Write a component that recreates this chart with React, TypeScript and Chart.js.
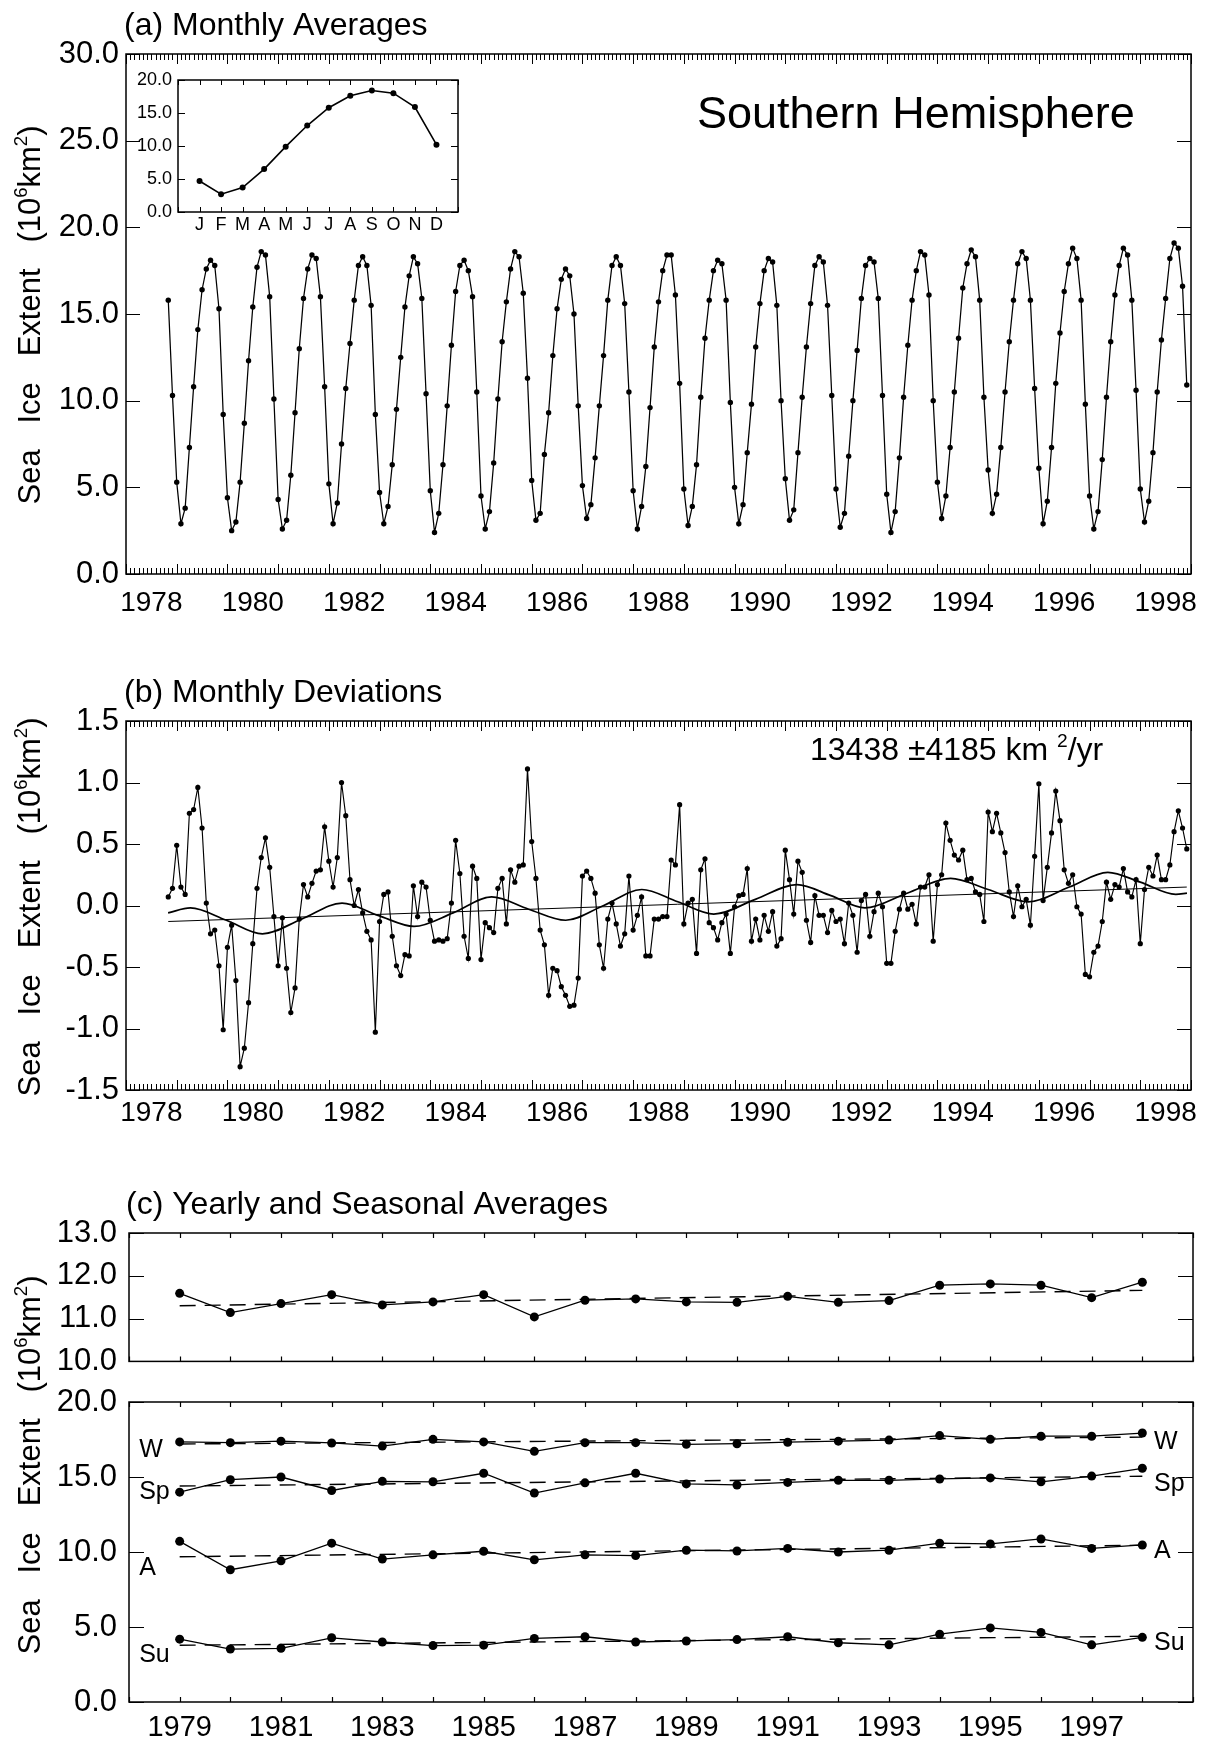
import React, { useEffect, useRef } from 'react';
import { Chart, registerables } from 'chart.js';

Chart.register(...registerables);

const FONT = '"Liberation Sans", Arial, Helvetica, sans-serif';
const INK = '#000000';

// ---------------- (a) Monthly averages, Nov 1978 - Dec 1998 (10^6 km^2) ----------------
const monthlyStartYear = 1978;
const monthlyStartMonth = 11; // November
const monthlyExtent = [
  15.8, 10.3,
  5.3, 2.9, 3.8, 7.3, 10.8, 14.1, 16.4, 17.6, 18.1, 17.8, 15.3, 9.2,
  4.4, 2.5, 3.0, 5.3, 8.7, 12.3, 15.4, 17.7, 18.6, 18.4, 16.0, 10.1,
  4.3, 2.6, 3.1, 5.7, 9.3, 13.0, 15.9, 17.6, 18.4, 18.2, 16.0, 10.8,
  5.2, 2.9, 4.1, 7.5, 10.7, 13.3, 15.8, 17.8, 18.3, 17.8, 15.5, 9.2,
  4.7, 2.9, 3.9, 6.3, 9.5, 12.5, 15.4, 17.2, 18.3, 17.9, 15.9, 10.4,
  4.8, 2.4, 3.5, 6.3, 9.7, 13.2, 16.3, 17.8, 18.1, 17.5, 16.0, 10.5,
  4.5, 2.6, 3.6, 6.4, 10.1, 13.4, 15.7, 17.6, 18.6, 18.3, 16.2, 11.3,
  5.4, 3.1, 3.5, 6.9, 9.3, 12.6, 15.3, 17.0, 17.6, 17.2, 15.0, 9.7,
  5.1, 3.2, 4.0, 6.7, 9.7, 12.6, 15.8, 17.8, 18.3, 17.8, 15.6, 10.5,
  4.8, 2.6, 3.9, 6.2, 9.6, 13.1, 15.7, 17.5, 18.4, 18.4, 16.1, 11.0,
  4.9, 2.8, 3.9, 6.3, 10.2, 13.6, 15.8, 17.5, 18.1, 17.9, 15.8, 9.9,
  5.0, 2.9, 4.0, 7.0, 9.8, 13.1, 15.6, 17.5, 18.2, 18.0, 15.5, 10.0,
  5.5, 3.1, 3.7, 7.0, 10.2, 13.1, 15.6, 17.8, 18.3, 18.0, 15.5, 10.3,
  4.9, 2.7, 3.5, 6.8, 10.0, 12.9, 15.9, 17.8, 18.2, 18.0, 15.9, 10.3,
  4.6, 2.4, 3.6, 6.7, 10.2, 13.2, 15.8, 17.5, 18.6, 18.4, 16.1, 10.0,
  5.3, 3.2, 4.5, 7.3, 10.5, 13.6, 16.5, 17.9, 18.7, 18.3, 15.8, 10.2,
  6.0, 3.5, 4.6, 7.3, 10.5, 13.4, 15.8, 17.9, 18.6, 18.2, 15.8, 10.7,
  6.1, 2.9, 4.2, 7.3, 11.0, 13.9, 16.3, 17.9, 18.8, 18.2, 15.8, 9.8,
  4.5, 2.6, 3.6, 6.6, 10.2, 13.4, 16.1, 17.8, 18.8, 18.4, 15.8, 10.6,
  4.9, 3.0, 4.2, 7.0, 10.5, 13.5, 15.9, 18.2, 19.1, 18.8, 16.6, 10.9,
];
const monthlyYearLabels = [1978, 1980, 1982, 1984, 1986, 1988, 1990, 1992, 1994, 1996, 1998];

// inset: mean seasonal cycle
const monthInitials = ['J', 'F', 'M', 'A', 'M', 'J', 'J', 'A', 'S', 'O', 'N', 'D'];
const climatologyExtent = [4.7, 2.7, 3.7, 6.5, 9.9, 13.1, 15.8, 17.6, 18.4, 18.0, 15.9, 10.2];

// ---------------- (b) Monthly deviations (10^6 km^2) ----------------
const monthlyDeviation = [
  0.07, 0.14,
  0.49, 0.15, 0.09, 0.75, 0.78, 0.96, 0.63, 0.02, -0.23, -0.20, -0.49, -1.01,
  -0.34, -0.16, -0.61, -1.31, -1.16, -0.79, -0.31, 0.14, 0.39, 0.55, 0.31, -0.09,
  -0.49, -0.10, -0.51, -0.87, -0.67, -0.11, 0.17, 0.07, 0.18, 0.28, 0.29, 0.64,
  0.36, 0.15, 0.39, 1.00, 0.73, 0.21, 0.00, 0.13, -0.06, -0.21, -0.28, -1.03,
  -0.13, 0.09, 0.11, -0.25, -0.49, -0.57, -0.40, -0.41, 0.16, -0.09, 0.19, 0.15,
  -0.12, -0.29, -0.28, -0.29, -0.27, 0.02, 0.53, 0.26, -0.25, -0.43, 0.32, 0.22,
  -0.44, -0.14, -0.18, -0.22, 0.14, 0.22, -0.15, 0.29, 0.19, 0.32, 0.33, 1.11,
  0.52, 0.22, -0.20, -0.32, -0.73, -0.51, -0.53, -0.66, -0.73, -0.82, -0.81, -0.59,
  0.24, 0.28, 0.22, 0.10, -0.32, -0.51, -0.11, 0.02, -0.15, -0.33, -0.23, 0.24,
  -0.20, -0.08, 0.07, -0.41, -0.41, -0.11, -0.11, -0.09, -0.09, 0.37, 0.33, 0.82,
  -0.15, 0.02, 0.05, -0.39, 0.29, 0.38, -0.14, -0.18, -0.28, -0.14, -0.07, -0.39,
  -0.01, 0.08, 0.09, 0.30, -0.29, -0.11, -0.28, -0.08, -0.21, -0.05, -0.33, -0.27,
  0.45, 0.21, -0.07, 0.36, 0.27, -0.12, -0.30, 0.08, -0.08, -0.08, -0.22, -0.04,
  -0.13, -0.11, -0.31, 0.02, -0.08, -0.38, 0.04, 0.09, -0.25, -0.05, 0.10, -0.01,
  -0.47, -0.47, -0.21, -0.03, 0.10, -0.03, 0.01, -0.15, 0.15, 0.15, 0.25, -0.29,
  0.17, 0.25, 0.67, 0.53, 0.41, 0.37, 0.45, 0.21, 0.22, 0.11, 0.09, -0.13,
  0.76, 0.60, 0.75, 0.59, 0.43, 0.11, -0.09, 0.16, -0.01, 0.05, -0.16, 0.40,
  0.99, 0.04, 0.31, 0.59, 0.93, 0.69, 0.29, 0.18, 0.25, -0.01, -0.07, -0.56,
  -0.58, -0.38, -0.33, -0.13, 0.19, 0.05, 0.17, 0.15, 0.30, 0.11, 0.07, 0.21,
  -0.31, 0.13, 0.31, 0.24, 0.41, 0.21, 0.21, 0.33, 0.60, 0.77, 0.63, 0.46,
];
const deviationTrendEnds = [-0.13, 0.15];
const waveYears = [
  1978.83, 1979.27, 1979.98, 1980.69, 1981.47, 1982.26, 1982.97, 1983.68, 1984.45, 1985.21,
  1985.94, 1986.67, 1987.42, 1988.17, 1988.88, 1989.59, 1990.41, 1991.23, 1991.90, 1992.57,
  1993.40, 1994.26, 1995.00, 1995.79, 1996.60, 1997.36, 1998.00, 1998.70, 1998.92,
];
const waveValues = [
  -0.06, -0.02, -0.12, -0.23, -0.11, 0.02, -0.08, -0.17, -0.06, 0.07,
  -0.03, -0.12, 0.00, 0.13, 0.03, -0.07, 0.05, 0.17, 0.08, -0.02,
  0.10, 0.22, 0.13, 0.03, 0.15, 0.27, 0.19, 0.09, 0.10,
];

// ---------------- (c) Yearly and seasonal averages (10^6 km^2) ----------------
const seasonalYears = [1979, 1980, 1981, 1982, 1983, 1984, 1985, 1986, 1987, 1988, 1989, 1990, 1991, 1992, 1993, 1994, 1995, 1996, 1997, 1998];
const seasonalYearLabels = [1979, 1981, 1983, 1985, 1987, 1989, 1991, 1993, 1995, 1997];
const yearlyAverage = [11.59, 11.14, 11.35, 11.56, 11.32, 11.39, 11.56, 11.04, 11.43, 11.46, 11.39, 11.38, 11.52, 11.38, 11.42, 11.78, 11.81, 11.78, 11.49, 11.85];
const winterAverage = [17.34, 17.29, 17.39, 17.27, 17.06, 17.51, 17.34, 16.71, 17.29, 17.29, 17.18, 17.22, 17.32, 17.39, 17.46, 17.76, 17.51, 17.72, 17.72, 17.93];
const springAverage = [13.99, 14.82, 15.0, 14.1, 14.71, 14.68, 15.25, 13.93, 14.61, 15.25, 14.54, 14.47, 14.64, 14.78, 14.78, 14.87, 14.94, 14.68, 15.06, 15.58];
const autumnAverage = [10.71, 8.82, 9.41, 10.59, 9.53, 9.81, 10.05, 9.48, 9.81, 9.76, 10.12, 10.07, 10.24, 10.0, 10.12, 10.59, 10.54, 10.87, 10.24, 10.47];
const summerAverage = [4.19, 3.53, 3.58, 4.28, 4.0, 3.76, 3.79, 4.24, 4.35, 4.0, 4.07, 4.16, 4.35, 3.95, 3.81, 4.52, 4.94, 4.64, 3.81, 4.31];
const yearlyTrendEnds = [11.3, 11.66];
const winterTrendEnds = [17.2, 17.66];
const springTrendEnds = [14.4, 15.05];
const autumnTrendEnds = [9.68, 10.45];
const summerTrendEnds = [3.78, 4.38];
const seasonNames = ['W', 'Sp', 'A', 'Su'];
const seasonLeftLabelValues = [16.8, 14.0, 8.9, 3.1];
const seasonRightLabelValues = [17.35, 14.55, 10.05, 3.9];
const seasonLeftLabelYear = 1978.2;
const seasonRightLabelYear = 1998.23;

// ---------------- helpers ----------------
const monthTime = (i: number) => monthlyStartYear + (monthlyStartMonth - 1 + i) / 12;
const monthlyPoints = monthlyExtent.map((v, i) => ({ x: monthTime(i), y: v }));
const deviationPoints = monthlyDeviation.map((v, i) => ({ x: monthTime(i), y: v }));
const deviationTrend = [
  { x: monthTime(0), y: deviationTrendEnds[0] },
  { x: monthTime(monthlyDeviation.length - 1), y: deviationTrendEnds[1] },
];
const wavePoints = waveYears.map((t, i) => ({ x: t, y: waveValues[i] }));
const climPoints = climatologyExtent.map((v, i) => ({ x: i, y: v }));
const yearSeries = (vals: number[]) => vals.map((v, i) => ({ x: seasonalYears[i], y: v }));
const trendSeries = (ends: number[]) => [
  { x: seasonalYears[0], y: ends[0] },
  { x: seasonalYears[seasonalYears.length - 1], y: ends[1] },
];

const lineStyle = (radius: number, width: number) => ({
  borderColor: INK,
  backgroundColor: INK,
  borderWidth: width,
  pointRadius: radius,
  pointHoverRadius: radius,
  pointBackgroundColor: INK,
  pointBorderColor: INK,
  pointBorderWidth: 0,
  tension: 0,
  fill: false,
});
const dashStyle = {
  borderColor: INK,
  borderWidth: 1.4,
  borderDash: [16, 9],
  pointRadius: 0,
  fill: false,
  tension: 0,
};

function yAxis(min: number, max: number, step: number, width: number, size: number, pad: number) {
  return {
    type: 'linear',
    min,
    max,
    grid: { display: false, drawTicks: false },
    border: { display: false },
    ticks: {
      stepSize: step,
      padding: pad,
      color: INK,
      font: { family: FONT, size },
      callback: (v: any) => Number(v).toFixed(1),
    },
    afterFit: (s: any) => {
      s.width = width;
    },
  };
}

function xAxis(min: number, max: number, values: number[], labels: string[], height: number, size: number, pad: number, display = true) {
  return {
    type: 'linear',
    min,
    max,
    display,
    grid: { display: false, drawTicks: false },
    border: { display: false },
    afterBuildTicks: (s: any) => {
      s.ticks = values.map((v) => ({ value: v }));
    },
    ticks: {
      autoSkip: false,
      maxRotation: 0,
      minRotation: 0,
      padding: pad,
      color: INK,
      font: { family: FONT, size },
      callback: (_v: any, i: number) => labels[i],
    },
    afterFit: (s: any) => {
      s.height = height;
    },
  };
}

function baseOptions(padding: any, scales: any) {
  return {
    responsive: false,
    maintainAspectRatio: false,
    animation: false,
    events: [],
    layout: { padding, autoPadding: false },
    plugins: { legend: { display: false }, tooltip: { enabled: false }, title: { display: false } },
    scales,
  };
}

type FrameCfg = { perUnit: number; majorEvery: number; minorLen: number; majorLen: number; yLen: number; frameWidth: number; tickWidth: number };
function frameTicks(cfg: FrameCfg) {
  return {
    id: 'frameTicks',
    afterDatasetsDraw(chart: any) {
      const { ctx, chartArea: a, scales } = chart;
      const xs = scales.x;
      const ys = scales.y;
      ctx.save();
      ctx.strokeStyle = INK;
      ctx.lineWidth = cfg.tickWidth;
      ctx.beginPath();
      const lo = Math.ceil(xs.min * cfg.perUnit - 1e-6);
      const hi = Math.floor(xs.max * cfg.perUnit + 1e-6);
      for (let m = lo; m <= hi; m++) {
        const px = Math.round(xs.getPixelForValue(m / cfg.perUnit)) + 0.5;
        const len = Math.abs(m % cfg.majorEvery) === 0 ? cfg.majorLen : cfg.minorLen;
        ctx.moveTo(px, a.bottom);
        ctx.lineTo(px, a.bottom - len);
        ctx.moveTo(px, a.top);
        ctx.lineTo(px, a.top + len);
      }
      ys.ticks.forEach((t: any) => {
        const py = Math.round(ys.getPixelForValue(t.value)) + 0.5;
        ctx.moveTo(a.left, py);
        ctx.lineTo(a.left + cfg.yLen, py);
        ctx.moveTo(a.right, py);
        ctx.lineTo(a.right - cfg.yLen, py);
      });
      ctx.stroke();
      ctx.lineWidth = cfg.frameWidth;
      ctx.strokeRect(a.left, a.top, a.right - a.left, a.bottom - a.top);
      ctx.restore();
    },
  };
}

type Seg = { t: string; sup?: boolean };
type TextItem = { segs: Seg[]; x: number; y: number; size: number; align?: 'left' | 'center'; rotate?: boolean };
function drawRich(ctx: CanvasRenderingContext2D, item: TextItem) {
  const supSize = item.size * 0.6;
  const widths = item.segs.map((s) => {
    ctx.font = `${s.sup ? supSize : item.size}px ${FONT}`;
    return ctx.measureText(s.t).width;
  });
  const total = widths.reduce((a, b) => a + b, 0);
  ctx.save();
  ctx.translate(item.x, item.y);
  if (item.rotate) ctx.rotate(-Math.PI / 2);
  ctx.fillStyle = INK;
  ctx.textAlign = 'left';
  ctx.textBaseline = 'alphabetic';
  let cx = item.align === 'center' ? -total / 2 : 0;
  item.segs.forEach((s, i) => {
    ctx.font = `${s.sup ? supSize : item.size}px ${FONT}`;
    ctx.fillText(s.t, cx, s.sup ? -item.size * 0.42 : 0);
    cx += widths[i];
  });
  ctx.restore();
}
function textPlugin(items: TextItem[]) {
  return {
    id: 'panelTexts',
    afterDraw(chart: any) {
      items.forEach((it) => drawRich(chart.ctx, it));
    },
  };
}

const seasonLabelPlugin = {
  id: 'seasonLabels',
  afterDatasetsDraw(chart: any) {
    const { ctx, scales } = chart;
    ctx.save();
    ctx.font = `25px ${FONT}`;
    ctx.fillStyle = INK;
    ctx.textAlign = 'left';
    ctx.textBaseline = 'middle';
    seasonNames.forEach((name, i) => {
      ctx.fillText(name, scales.x.getPixelForValue(seasonLeftLabelYear), scales.y.getPixelForValue(seasonLeftLabelValues[i]));
      ctx.fillText(name, scales.x.getPixelForValue(seasonRightLabelYear), scales.y.getPixelForValue(seasonRightLabelValues[i]));
    });
    ctx.restore();
  },
};

const yTitleSegs: Seg[] = [
  { t: 'Sea   Ice   Extent   (10' },
  { t: '6', sup: true },
  { t: 'km' },
  { t: '2', sup: true },
  { t: ')' },
];

const monthlyFrame: FrameCfg = { perUnit: 12, majorEvery: 12, minorLen: 6, majorLen: 10, yLen: 14, frameWidth: 1.5, tickWidth: 1 };
const yearlyFrame: FrameCfg = { perUnit: 1, majorEvery: 1, minorLen: 5, majorLen: 5, yLen: 15, frameWidth: 1.5, tickWidth: 1.2 };
const insetFrame: FrameCfg = { perUnit: 1, majorEvery: 1, minorLen: 5, majorLen: 5, yLen: 7, frameWidth: 1.5, tickWidth: 1 };

const monthlyTickValues = monthlyYearLabels.map((y) => y + 0.5);
const monthlyTickText = monthlyYearLabels.map(String);

// ---------------- chart builders ----------------
function makePanelA(): any {
  return {
    type: 'line',
    data: { datasets: [{ data: monthlyPoints, ...lineStyle(2.7, 1.25) }] },
    options: baseOptions(
      { top: 54, right: 19, left: 0, bottom: 0 },
      {
        x: xAxis(1978, 1999, monthlyTickValues, monthlyTickText, 56, 28, 12),
        y: yAxis(0, 30, 5, 126, 31, 7),
      }
    ),
    plugins: [
      frameTicks(monthlyFrame),
      textPlugin([
        { segs: [{ t: '(a) Monthly Averages' }], x: 124, y: 35, size: 32 },
        { segs: [{ t: 'Southern Hemisphere' }], x: 697, y: 128, size: 45 },
        { segs: yTitleSegs, x: 40, y: 315, size: 31, align: 'center', rotate: true },
      ]),
    ],
  };
}

function makeInset(): any {
  return {
    type: 'line',
    data: { datasets: [{ data: climPoints, ...lineStyle(3, 1.6) }] },
    options: baseOptions(
      { top: 20, right: 4, left: 0, bottom: 0 },
      {
        x: xAxis(-1, 12, monthInitials.map((_, i) => i), monthInitials, 30, 18, 2),
        y: yAxis(0, 20, 5, 58, 18, 6),
      }
    ),
    plugins: [frameTicks(insetFrame)],
  };
}

function makePanelB(): any {
  return {
    type: 'line',
    data: {
      datasets: [
        { data: deviationPoints, ...lineStyle(2.6, 1.15) },
        { data: deviationTrend, borderColor: INK, borderWidth: 1, pointRadius: 0, fill: false },
        { data: wavePoints, borderColor: INK, borderWidth: 1.7, pointRadius: 0, fill: false, cubicInterpolationMode: 'monotone' },
      ],
    },
    options: baseOptions(
      { top: 81, right: 19, left: 0, bottom: 0 },
      {
        x: xAxis(1978, 1999, monthlyTickValues, monthlyTickText, 50, 28, 6),
        y: yAxis(-1.5, 1.5, 0.5, 126, 31, 7),
      }
    ),
    plugins: [
      frameTicks(monthlyFrame),
      textPlugin([
        { segs: [{ t: '(b) Monthly Deviations' }], x: 124, y: 62, size: 32 },
        { segs: [{ t: '13438 \u00b14185 km ' }, { t: '2', sup: true }, { t: '/yr' }], x: 810, y: 120, size: 32 },
        { segs: yTitleSegs, x: 40, y: 267, size: 31, align: 'center', rotate: true },
      ]),
    ],
  };
}

function makePanelCTop(): any {
  return {
    type: 'line',
    data: {
      datasets: [
        { data: yearSeries(yearlyAverage), ...lineStyle(4.5, 1.3) },
        { data: trendSeries(yearlyTrendEnds), ...dashStyle },
      ],
    },
    options: baseOptions(
      { top: 53, right: 17, left: 0, bottom: 24 },
      {
        x: xAxis(1978, 1999, seasonalYearLabels, seasonalYearLabels.map(String), 0, 29, 8, false),
        y: yAxis(10, 13, 1, 129, 31, 12),
      }
    ),
    plugins: [
      frameTicks(yearlyFrame),
      textPlugin([{ segs: [{ t: '(c) Yearly and Seasonal Averages' }], x: 126, y: 34, size: 32 }]),
    ],
  };
}

function makePanelCBottom(): any {
  return {
    type: 'line',
    data: {
      datasets: [
        { data: yearSeries(winterAverage), ...lineStyle(4.5, 1.3) },
        { data: trendSeries(winterTrendEnds), ...dashStyle },
        { data: yearSeries(springAverage), ...lineStyle(4.5, 1.3) },
        { data: trendSeries(springTrendEnds), ...dashStyle },
        { data: yearSeries(autumnAverage), ...lineStyle(4.5, 1.3) },
        { data: trendSeries(autumnTrendEnds), ...dashStyle },
        { data: yearSeries(summerAverage), ...lineStyle(4.5, 1.3) },
        { data: trendSeries(summerTrendEnds), ...dashStyle },
      ],
    },
    options: baseOptions(
      { top: 162, right: 17, left: 0, bottom: 0 },
      {
        x: xAxis(1978, 1999, seasonalYearLabels, seasonalYearLabels.map(String), 42, 29, 9),
        y: yAxis(0, 20, 5, 129, 31, 12),
      }
    ),
    plugins: [
      frameTicks(yearlyFrame),
      seasonLabelPlugin,
      textPlugin([{ segs: yTitleSegs, x: 40, y: 225, size: 31, align: 'center', rotate: true }]),
    ],
  };
}

function ChartBox(props: { left: number; top: number; width: number; height: number; make: () => any }) {
  const ref = useRef<HTMLCanvasElement | null>(null);
  const { left, top, width, height, make } = props;
  useEffect(() => {
    if (!ref.current) return;
    const chart = new Chart(ref.current, make());
    return () => chart.destroy();
  }, [make]);
  return (
    <canvas
      ref={ref}
      width={width}
      height={height}
      style={{ position: 'absolute', left, top, width, height }}
    />
  );
}

export default function App() {
  return (
    <div
      style={{
        position: 'absolute',
        left: 0,
        top: 0,
        width: 1210,
        height: 1744,
        background: '#ffffff',
        overflow: 'hidden',
      }}
    >
      <ChartBox left={0} top={0} width={1210} height={630} make={makePanelA} />
      <ChartBox left={120} top={60} width={342} height={182} make={makeInset} />
      <ChartBox left={0} top={640} width={1210} height={500} make={makePanelB} />
      <ChartBox left={0} top={1180} width={1210} height={212} make={makePanelCTop} />
      <ChartBox left={0} top={1240} width={1210} height={504} make={makePanelCBottom} />
    </div>
  );
}
